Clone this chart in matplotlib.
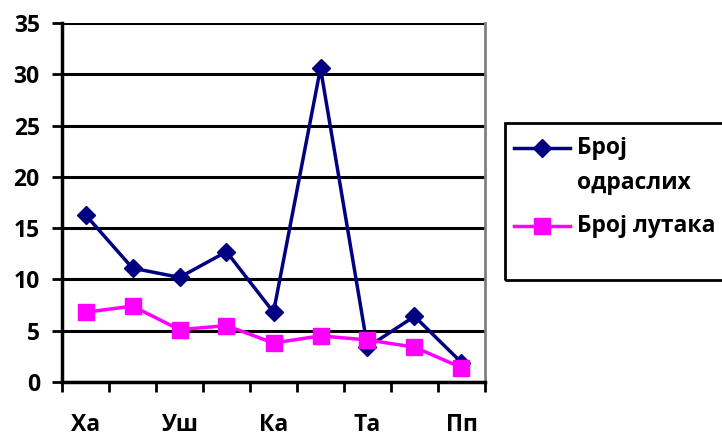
import matplotlib.pyplot as plt
from matplotlib.lines import Line2D
from matplotlib.patches import Rectangle

plt.rcParams['font.family'] = ['Open Sans', 'DejaVu Sans']
plt.rcParams['font.weight'] = 'bold'

# nine sites, every second one labelled on the axis
tick_labels = ['Ха', 'Уш', 'Ка', 'Та', 'Пп']
adults = [16.3, 11.1, 10.2, 12.7, 6.8, 30.6, 3.4, 6.4, 1.9]
larvae = [6.8, 7.4, 5.1, 5.5, 3.8, 4.5, 4.1, 3.4, 1.4]
y_ticks = [0, 5, 10, 15, 20, 25, 30, 35]
legend_lines = [['Број', 'одраслих'], ['Број лутака']]

navy = '#000080'
magenta = '#FF00FF'
W, H = 722, 438

fig = plt.figure(figsize=(W / 100, H / 100), dpi=100)
ax = fig.add_axes([62 / W, 1 - 382 / H, 423 / W, 359 / H])

x = list(range(len(adults)))
styles = [dict(color=navy, marker='D', ms=9.5), dict(color=magenta, marker='s', ms=11)]
for vals, st, z in zip([adults, larvae], styles, [4, 5]):
    ax.plot(x, vals, color=st['color'], lw=2.5, marker=st['marker'], ms=st['ms'],
            mfc=st['color'], mec=st['color'], zorder=z)

ax.set_xlim(-0.5, len(x) - 0.5)
ax.set_ylim(0, 35)

ax.set_yticks(y_ticks)
ax.set_yticklabels([str(v) for v in y_ticks], fontsize=16.5, fontweight='bold')
ax.tick_params(axis='y', direction='out', length=7, width=2, pad=9)

ax.set_xticks(x[::2])
ax.set_xticklabels(tick_labels, fontsize=16.5, fontweight='bold')
ax.set_xticks([i - 0.5 for i in range(len(x) + 1)], minor=True)
ax.tick_params(axis='x', which='major', length=0, pad=22)
ax.tick_params(axis='x', which='minor', direction='out', length=7, width=2)

ax.grid(axis='y', color='black', lw=2.2, zorder=1)
ax.set_axisbelow(True)

for side in ('left', 'bottom'):
    ax.spines[side].set_linewidth(2.5)
    ax.spines[side].set_color('black')
ax.spines['right'].set_color('#808080')
ax.spines['right'].set_linewidth(2)
ax.spines['top'].set_visible(False)

# legend box, drawn by hand so the marker sits on the first text line;
# the frame runs off the right edge of the figure
fig.patches.append(Rectangle((505 / W, 1 - 280 / H), 230 / W, 157 / H,
                             transform=fig.transFigure, fill=False,
                             edgecolor='black', lw=2))
for st, lines, y0 in zip(styles, legend_lines, [148, 226]):
    fy = 1 - y0 / H
    fig.lines.append(Line2D([514 / W, 570 / W], [fy, fy], transform=fig.transFigure,
                            color=st['color'], lw=2.5))
    fig.lines.append(Line2D([542 / W], [fy], transform=fig.transFigure, ls='none',
                            marker=st['marker'], ms=st['ms'], mfc=st['color'],
                            mec=st['color']))
    for k, line in enumerate(lines):
        fig.text(577 / W, 1 - (y0 + 35 * k) / H, line, fontsize=16.5,
                 fontweight='bold', va='center', ha='left')

fig.savefig('out.png', dpi=100)
